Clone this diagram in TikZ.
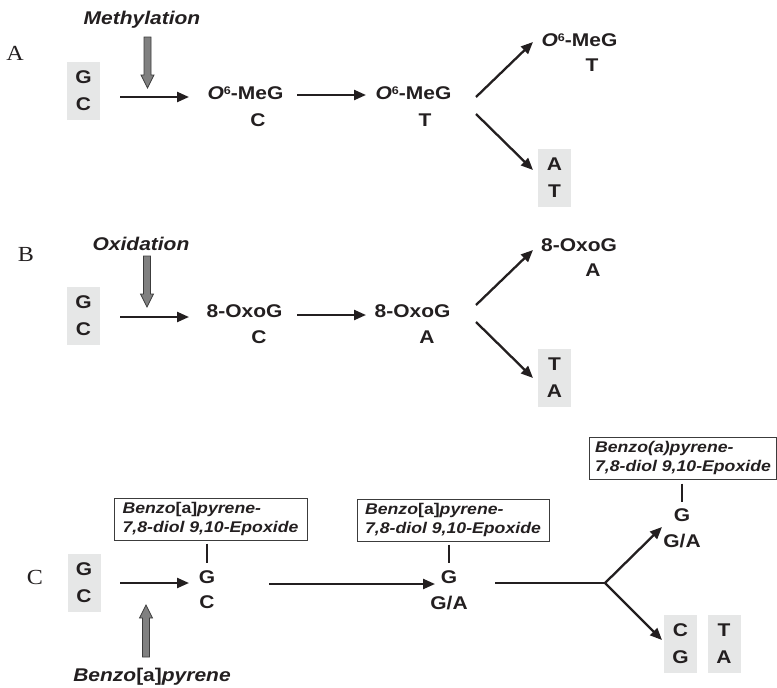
\documentclass[tikz,border=0pt]{standalone}
\usepackage{fontspec}
\usetikzlibrary{arrows.meta,calc}
\newfontfamily\labelsans{Liberation Sans}[FakeStretch=1.14]
\newfontfamily\panelserif{Liberation Serif}[FakeStretch=1.12]
\definecolor{ink}{RGB}{35,31,32}
\definecolor{pairfill}{RGB}{230,231,231}
\definecolor{fatfill}{RGB}{128,128,128}
\definecolor{fatedge}{RGB}{60,60,60}
\newcommand\Osix{\textit{O}\raisebox{5pt}{\fontsize{11}{11}\selectfont 6}-MeG}
\begin{document}
\begin{tikzpicture}[x=1pt,y=-1pt,
  base/.style={inner sep=0pt, text=ink, font=\labelsans\bfseries\fontsize{18.4}{27}\selectfont},
  agent/.style={inner sep=0pt, text=ink, font=\labelsans\bfseries\itshape\fontsize{18.4}{22}\selectfont},
  panel/.style={inner sep=0pt, text=ink, font=\panelserif\fontsize{21.5}{24}\selectfont},
  pairbox/.style={base, fill=pairfill, minimum width=33pt, minimum height=58pt, align=center},
  epoxbox/.style={draw=fatedge, line width=1pt, inner xsep=6pt, inner ysep=3pt, align=left,
    text=ink, font=\labelsans\bfseries\itshape\fontsize{15.5}{19.5}\selectfont},
  arr/.style={draw=ink, line width=2.3pt, -{Triangle[length=12pt,width=10pt]}},
  plain/.style={draw=ink, line width=2.3pt},
  tick/.style={draw=ink, line width=1.8pt},
  fat/.style={fill=fatfill, draw=fatedge, line width=0.8pt, line join=miter}]
\useasboundingbox (0,0) rectangle (777,688);

% ---------- Panel A: methylation ----------
\node[panel] (lA) at (15,53) {A};
\node[agent] (meth) at (142,20) {Methylation};
\coordinate (fA) at (147.5,37);
\draw[fat] (fA) ++(-3.5,0) -- ++(0,38) -- ++(-3,0) -- ++(6.5,13) -- ++(6.5,-13) -- ++(-3,0) -- ++(0,-38) -- cycle;
\node[pairbox] (gcA) at (83.5,91) {G\\C};
\node[base] (mgA1) at (245.5,93) {\Osix};
\node[base] (cA1) at (258,120) {C};
\node[base] (mgA2) at (413.5,93) {\Osix};
\node[base] (tA2) at (425,120) {T};
\node[base] (mgA3) at (579.5,40) {\Osix};
\node[base] (tA3) at (592,65) {T};
\node[pairbox] (atA) at (554.5,178) {A\\T};
\draw[arr] ($(gcA)+(36.5,6)$) -- ($(mgA1)+(-56.5,4)$);
\draw[arr] ($(mgA1)+(51.5,2)$) -- ($(mgA2)+(-47.5,2)$);
\draw[arr] ($(mgA2)+(62.5,4)$) -- ($(mgA3)+(-46.5,2)$);
\draw[arr] ($(mgA2)+(62.5,21)$) -- ($(atA)+(-21.5,-8)$);

% ---------- Panel B: oxidation ----------
\node[panel] (lB) at (26,254) {B};
\node[agent] (oxid) at (141,244) {Oxidation};
\coordinate (fB) at (147,256);
\draw[fat] (fB) ++(-3.5,0) -- ++(0,38) -- ++(-3,0) -- ++(6.5,13) -- ++(6.5,-13) -- ++(-3,0) -- ++(0,-38) -- cycle;
\node[pairbox] (gcB) at (83.5,315.5) {G\\C};
\node[base] (ox1) at (244.5,311) {8-OxoG};
\node[base] (cB1) at (259,337) {C};
\node[base] (ox2) at (412.5,311) {8-OxoG};
\node[base] (aB2) at (427,337) {A};
\node[base] (ox3) at (579,245) {8-OxoG};
\node[base] (aB3) at (593,270) {A};
\node[pairbox] (taB) at (554.5,377.5) {T\\A};
\draw[arr] ($(gcB)+(36.5,1.5)$) -- ($(ox1)+(-55.5,6)$);
\draw[arr] ($(ox1)+(52.5,4)$) -- ($(ox2)+(-46.5,4)$);
\draw[arr] ($(ox2)+(63.5,-6)$) -- ($(ox3)+(-46,5)$);
\draw[arr] ($(ox2)+(63.5,11)$) -- ($(taB)+(-21.5,0.5)$);

% ---------- Panel C: benzo[a]pyrene ----------
\node[panel] (lC) at (35,577) {C};
\node[pairbox] (gcC) at (84,582.5) {G\\C};
\node[epoxbox, minimum width=193pt, minimum height=42pt] (ep1) at (210.5,519)
  {Benzo{\upshape[a]}pyrene-\\7,8-diol 9,10-Epoxide};
\node[base] (gC1) at (207,577) {G};
\node[base] (cC1) at (207,602) {C};
\node[agent] (bap) at (152,677) {Benzo{\upshape[a]}pyrene};
\coordinate (fC) at (146,657);
\draw[fat] (fC) ++(-3.5,0) -- ++(0,-39) -- ++(-3,0) -- ++(6.5,-13) -- ++(6.5,13) -- ++(-3,0) -- ++(0,39) -- cycle;
\node[epoxbox, minimum width=192pt, minimum height=42pt] (ep2) at (453,520)
  {Benzo{\upshape[a]}pyrene-\\7,8-diol 9,10-Epoxide};
\node[base] (gC2) at (449,577) {G};
\node[base] (gaC2) at (449,603) {G/A};
\node[epoxbox, minimum width=186pt, minimum height=42pt] (ep3) at (683,458)
  {Benzo(a)pyrene-\\7,8-diol 9,10-Epoxide};
\node[base] (gC3) at (682,515) {G};
\node[base] (gaC3) at (682,541) {G/A};
\node[pairbox] (cgC) at (680.5,644) {C\\G};
\node[pairbox] (taC) at (724,644) {T\\A};
\coordinate (brC) at (605,583);
\draw[tick] ($(gC1 |- ep1.south)+(0,3)$) -- ($(gC1)+(0,-14)$);
\draw[tick] ($(gC2 |- ep2.south)+(0,3)$) -- ($(gC2)+(0,-14)$);
\draw[tick] ($(gC3 |- ep3.south)+(0,4)$) -- ($(gC3)+(0,-13)$);
\draw[arr] ($(gcC)+(36,0.5)$) -- ($(gC1)+(-18,6)$);
\draw[arr] ($(gC1)+(62,7)$) -- ($(gC2)+(-14,7)$);
\draw[plain] ($(gC2)+(46,6)$) -- (brC);
\draw[arr] (brC) -- ($(gC3)+(-20,12)$);
\draw[arr] (brC) -- ($(cgC)+(-18.5,-4)$);
\end{tikzpicture}
\end{document}
